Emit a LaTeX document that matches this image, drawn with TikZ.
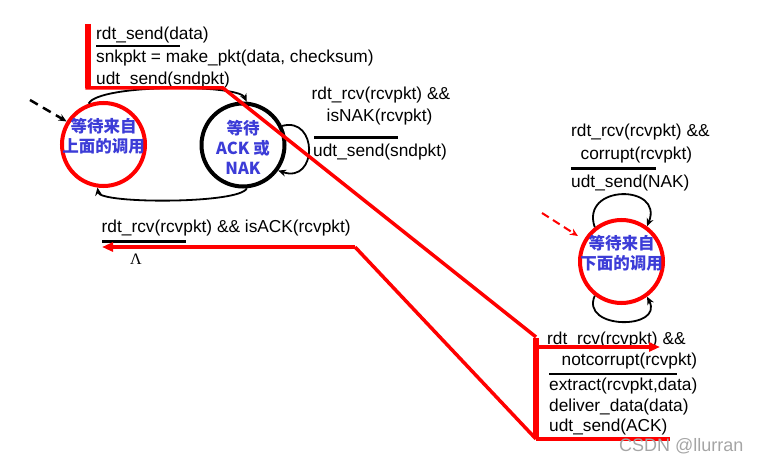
\documentclass[tikz,border=0pt]{standalone}
\usepackage{fontspec}
\setmainfont{Liberation Sans}
\newfontfamily\cjk{Noto Sans CJK SC}
\newfontfamily\lamfont{Liberation Serif}
\usetikzlibrary{arrows.meta}
\definecolor{stblue}{RGB}{60,60,215}
\definecolor{wmgray}{RGB}{165,165,165}
\begin{document}
\begin{tikzpicture}[x=1pt,y=-1pt,
  lab/.style={anchor=base west,inner sep=0pt,font=\fontsize{17.3}{21}\selectfont},
  state/.style={circle,minimum size=83pt,inner sep=0pt,line width=4pt},
  stext/.style={align=center,text=stblue,inner sep=0pt,font=\cjk\bfseries\fontsize{16.5}{20}\selectfont},
  bar/.style={line width=2.5pt},
  trans/.style={line width=1.8pt,-{Stealth[length=8pt,width=7pt]}},
  hl/.style={draw=red,line width=3.5pt,line join=miter},
  hlarrow/.style={hl,-{Triangle[length=11pt,width=9pt]}}
]
\useasboundingbox (0,0) rectangle (760,462);

% states
\node[state,draw=red] (L) at (103.5,144.5) {};
\node[state,draw=black] (R) at (243,145) {};
\node[state,draw=red] (D) at (621.5,261.5) {};

% start arrows
\coordinate (s1) at (30,100);
\coordinate (s2) at (542,213);
\draw[line width=2.5pt,dash pattern=on 9pt off 6pt,-{Stealth[length=8pt,width=7pt]}] (s1) -- (L.148);
\draw[red,line width=2pt,dash pattern=on 8pt off 5pt,-{Stealth[length=8pt,width=7pt]},shorten >=7pt] (s2) -- (D.150);

% transitions
\draw[trans] (L.110) .. controls (98,84) and (238,84) .. (R.85);
\draw[trans] (R.-85) .. controls (240,204) and (100,204) .. (L.-98);
\draw[trans] (R.26) .. controls (318,116) and (318,184) .. (R.-36);
\draw[trans] (D.128) .. controls (580,184) and (664,184) .. (D.54);
\draw[trans] (D.-128) .. controls (580,330) and (664,330) .. (D.-54);

% state texts
\node[stext] (Lt) at ([yshift=8pt]L.center) {等待来自\\上面的调用};
\node[stext] (Rt) at ([yshift=-2pt]R.center) {等待\\ACK 或\\NAK};
\node[stext] (Dt) at ([yshift=8.5pt]D.center) {等待来自\\下面的调用};

% labels: send
\node[lab] (a1) at (96,40) {rdt\_send(data)};
\draw[bar] (96,46) -- (180,46);
\node[lab] (a2) at (96,63) {snkpkt = make\_pkt(data, checksum)};
\node[lab] (a3) at (96,85) {udt\_send(sndpkt)};

% labels: NAK loop
\node[lab] (b1) at (311.5,99.5) {rdt\_rcv(rcvpkt) \&\&};
\node[lab] (b2) at (326.5,121.5) {isNAK(rcvpkt)};
\draw[bar] (314,137.5) -- (398,137.5);
\node[lab] (b3) at (313,157) {udt\_send(sndpkt)};

% labels: ACK
\node[lab] (c1) at (101.5,233) {rdt\_rcv(rcvpkt) \&\& isACK(rcvpkt)};
\draw[bar] (102,241.5) -- (186,241.5);
\node[anchor=base west,inner sep=0pt,font=\lamfont\fontsize{16}{18}\selectfont] (c2) at (130,265) {Λ};

% labels: corrupt loop
\node[lab] (d1) at (571,136.5) {rdt\_rcv(rcvpkt) \&\&};
\node[lab] (d2) at (580.5,160) {corrupt(rcvpkt)};
\draw[bar] (571,168.5) -- (656,168.5);
\node[lab] (d3) at (571,188) {udt\_send(NAK)};

% labels: notcorrupt loop
\node[lab] (e1) at (547,344) {rdt\_rcv(rcvpkt) \&\&};
\node[lab] (e2) at (561.5,365) {notcorrupt(rcvpkt)};
\draw[bar] (549,374) -- (677,374);
\node[lab] (e3) at (549,390.5) {extract(rcvpkt,data)};
\node[lab] (e4) at (549,411.5) {deliver\_data(data)};
\node[lab] (e5) at (549,431.5) {udt\_send(ACK)};

% red highlight path
\coordinate (p1) at (88,88);
\coordinate (p2) at (223,88);
\coordinate (p3) at (536,337);
\coordinate (p4) at (536,439);
\coordinate (p5) at (670,439);
\coordinate (q0) at (355,247);
\coordinate (q1) at (102,247);
\coordinate (r0) at (538,347);
\coordinate (r1) at (660,347);
\draw[red,line width=5.5pt] (88,24) -- (p1);
\draw[hl] ([xshift=-2.75pt]p1) -- (p2) -- (p3);
\draw[red,line width=6pt] ([yshift=-1pt]p3) -- ([yshift=1pt]p4);
\draw[hl] (p4) -- (p5);
\draw[hl] (p4) -- (q0);
\draw[hlarrow] (q0) -- (q1);
\draw[hlarrow] (r0) -- (r1);

% watermark
\node[anchor=base west,inner sep=0pt,text=wmgray,font=\fontsize{18}{20}\selectfont] (wm) at (619,451.5) {CSDN @llurran};
\end{tikzpicture}
\end{document}
